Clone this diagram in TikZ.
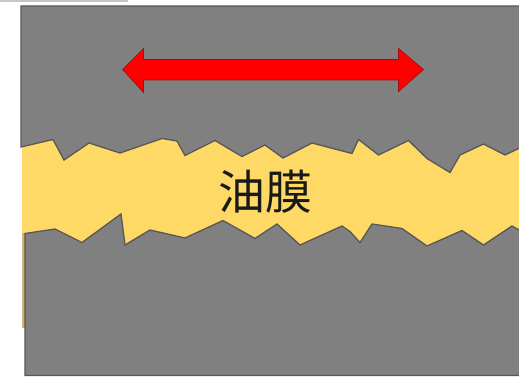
\documentclass[tikz,border=0pt]{standalone}
\usepackage{fontspec}
\newfontfamily\cjkjp{Noto Sans CJK JP}
\definecolor{plate}{HTML}{808080}
\definecolor{plateedge}{HTML}{575757}
\definecolor{oil}{HTML}{FFD966}
\definecolor{arrowred}{HTML}{FF0000}
\definecolor{arrowedge}{HTML}{A01010}
\tikzset{
  platestyle/.style={fill=plate, draw=plateedge, line width=1.3pt, line join=miter},
  arrowstyle/.style={fill=arrowred, draw=arrowedge, line width=0.7pt, line join=miter},
  labelstyle/.style={font=\cjkjp\fontsize{47}{50}\selectfont, text=black!90, inner sep=0pt}
}
\begin{document}
\begin{tikzpicture}[x=1pt,y=-1pt]
\useasboundingbox (0,0) rectangle (519,377);
\fill[white] (0,0) rectangle (519,377);
% faint strip at the very top
\fill[black!22] (0,0) rectangle (128,2.5);
% oil film
\fill[oil] (22,135) rectangle (525,255);
\fill[oil!60!plate] (22,233) rectangle (26,328);
% upper plate
\draw[platestyle] (21,6) -- (525,6) -- (525,148.3) -- (519,148.3)
  -- (505,155) -- (483.5,144) -- (460,155) -- (450,172.5) -- (427,158.5)
  -- (408.5,140.5) -- (378.5,155) -- (358.5,139.5) -- (352,153.5)
  -- (312,143) -- (283,158) -- (265,145) -- (242,156.5) -- (215,140.5)
  -- (185,155.5) -- (177,141) -- (162,138.5) -- (120,153) -- (89,143)
  -- (64,160) -- (53,139.5) -- (21,147) -- cycle;
% lower plate
\draw[platestyle] (25,233.5) -- (55,229) -- (82,242.5) -- (121,214)
  -- (125,245) -- (150,230) -- (185,238) -- (223,220.5) -- (255,238.5)
  -- (277,224) -- (300,245) -- (342,226) -- (350,231.5) -- (360,242.5)
  -- (372,224) -- (402,228.5) -- (427,246) -- (462,230.5) -- (483.5,245)
  -- (512,226) -- (519,230) -- (525,230) -- (525,375.5) -- (25,375.5) -- cycle;
% double arrow
\draw[arrowstyle] (122.7,69.5) -- (143.5,48.5) -- (143.5,59.5) -- (398.5,59.5)
  -- (398.5,48.5) -- (423.5,69.5) -- (398.5,91.5) -- (398.5,80)
  -- (143.5,80) -- (143.5,92.5) -- cycle;
% label
\node[labelstyle] (film) at (265.5,191.5) {油膜};
\end{tikzpicture}
\end{document}
